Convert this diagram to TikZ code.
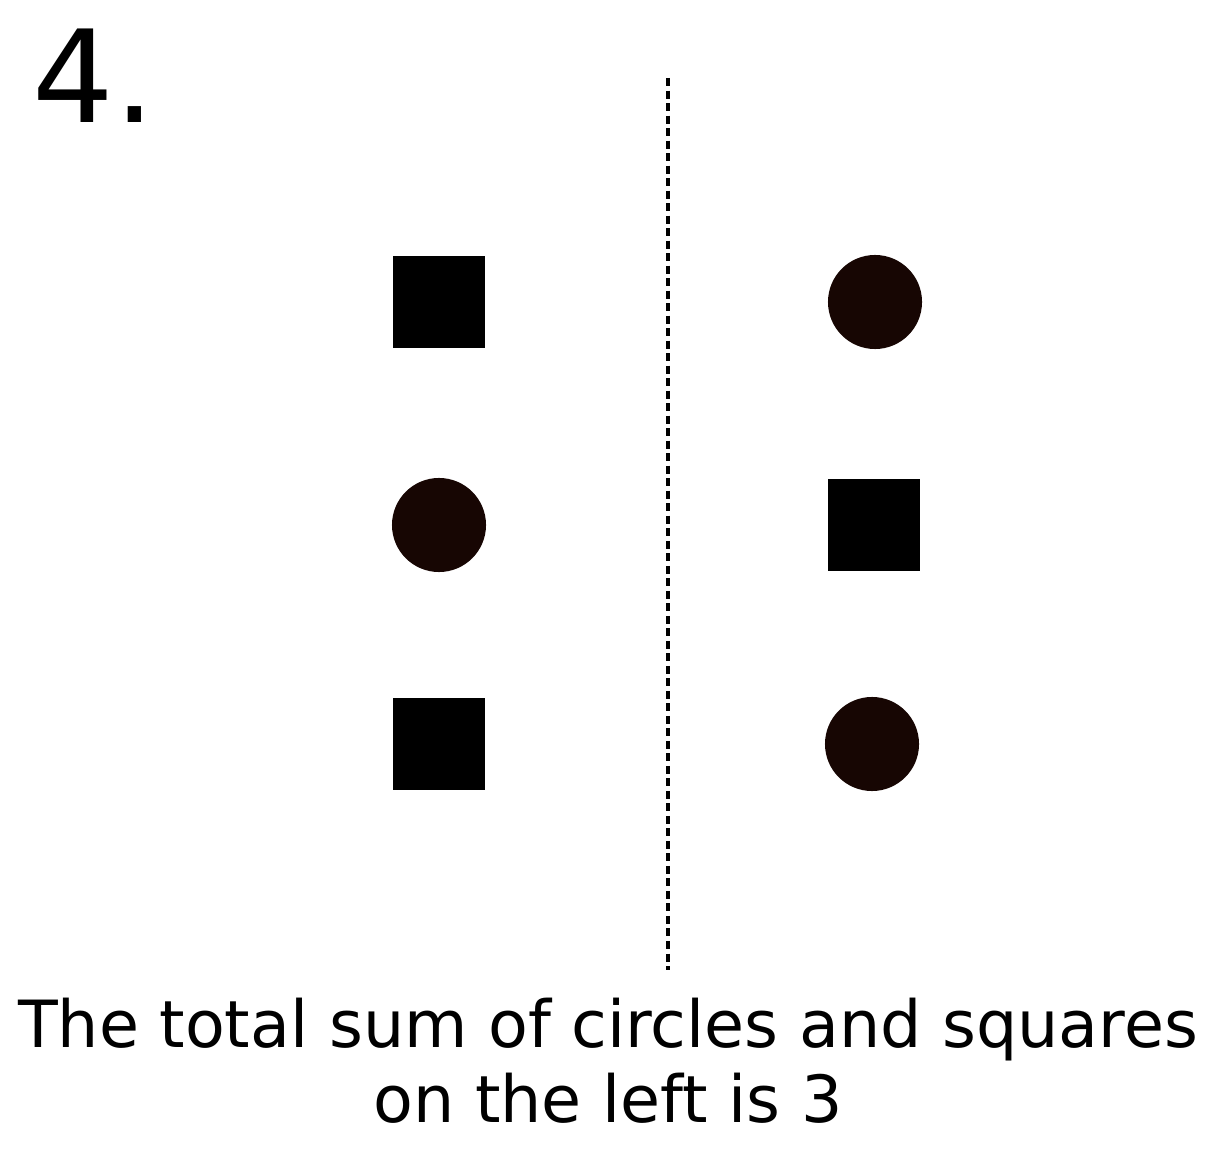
\documentclass[tikz,border=0pt]{standalone}
\usepackage{fontspec}
\setmainfont{DejaVu Sans}
\usepackage{tikz}
\usepackage{xcolor}
\definecolor{dotbrown}{HTML}{170603}

\begin{document}
\begin{tikzpicture}[x=0.01cm,y=-0.01cm,
  sq/.style={fill=black,minimum size=0.91cm,inner sep=0pt},
  dot/.style={circle,fill=dotbrown,minimum size=0.94cm,inner sep=0pt}]
\useasboundingbox (0,0) rectangle (1212,1149);
\node[anchor=base west,inner sep=0pt,font=\fontsize{36.5}{40}\selectfont] (num) at (32,123) {4.};
\coordinate (top) at (668,78);
\coordinate (bot) at (668,970);
\draw[line width=0.032cm,dash pattern=on 0.08cm off 0.045cm] (top)--(bot);
\node[sq] (l1) at (439,302) {};
\node[dot] (l2) at (439,525) {};
\node[sq] (l3) at (439,744) {};
\node[dot] (r1) at (875,302) {};
\node[sq] (r2) at (874,525) {};
\node[dot] (r3) at (872,744) {};
\node[anchor=base,inner sep=0pt,font=\fontsize{18.5}{21}\selectfont] (cap1) at (608,1047) {The total sum of circles and squares};
\node[anchor=base,inner sep=0pt,font=\fontsize{18.5}{21}\selectfont] (cap2) at (608,1122) {on the left is 3};
\end{tikzpicture}
\end{document}
